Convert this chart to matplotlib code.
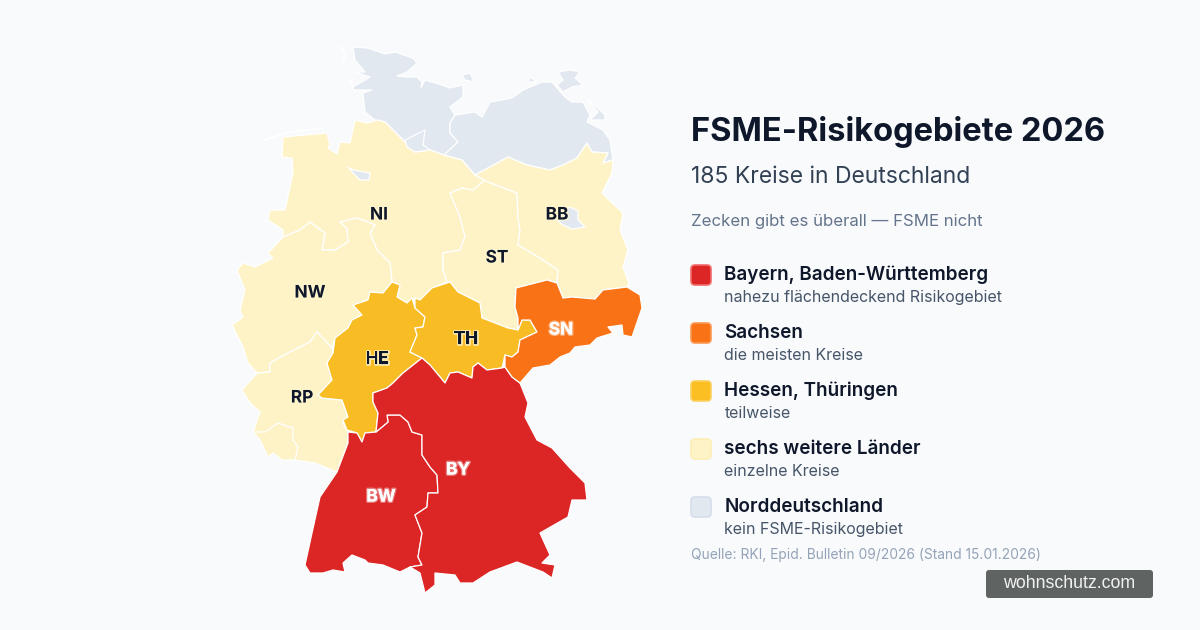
import matplotlib
matplotlib.use("Agg")
import matplotlib.pyplot as plt
from matplotlib.patches import Polygon, FancyBboxPatch
import matplotlib.patheffects as pe

BG = "#f8fafc"
RED, ORANGE, AMBER, CREAM, GREY = "#dc2626", "#f97316", "#f8bc24", "#fef3c7", "#e2e8f0"
DARK = "#0f172a"

# Outlines (image pixel coordinates)
SH = [(353,47),(368,48),(385,54),(395,52),(413,58),(417,63),(407,72),(397,76),(407,77),(417,77),(422,82),(421,88),(425,80),(442,85),(450,88),(463,85),(463,97),(450,107),(455,115),(450,123),(450,133),(458,142),(444,155),(430,150),(415,152),(405,142),(385,122),(375,120),(365,112),(363,93),(372,90),(353,90),(353,87),(370,77),(355,72),(365,72),(355,60)]
HH = [(405,140),(415,135),(425,130),(423,145),(430,150),(415,152),(407,147)]
FEHMARN = [(462,75),(470,73),(474,82),(465,80)]
MV = [(444,155),(458,142),(450,133),(450,123),(455,115),(475,112),(482,117),(490,102),(512,98),(523,90),(542,82),(552,82),(565,97),(572,102),(583,102),(590,115),(587,122),(603,130),(610,140),(613,160),(603,163),(608,153),(592,152),(587,143),(577,158),(563,165),(550,170),(527,165),(508,157),(488,168),(475,175),(462,160)]
RUEGEN = [(558,72),(570,70),(580,72),(575,78),(583,85),(572,87),(563,92),(557,85),(563,80)]
USEDOM = [(588,100),(598,108),(605,115),(605,120),(590,120),(598,112)]
DARSS = [(527,82),(531,77),(536,82)]
NI = [(283,137),(327,133),(330,145),(328,148),(337,154),(340,142),(350,143),(355,120),(367,123),(378,120),(385,122),(405,142),(415,152),(430,150),(444,155),(462,160),(475,175),(485,180),(473,190),(462,188),(450,193),(460,217),(465,237),(460,250),(443,253),(443,270),(447,282),(432,288),(420,300),(415,298),(407,303),(397,297),(400,285),(392,282),(390,263),(377,250),(370,233),(375,225),(368,222),(357,218),(340,222),(347,228),(348,242),(335,250),(322,250),(325,233),(310,222),(300,230),(283,237),(283,230),(268,220),(270,210),(285,210),(293,173),(292,158),(282,157)]
BREMEN = [(348,167),(353,170),(370,173),(369,180),(360,180),(353,173)]
NW = [(283,237),(300,230),(310,222),(325,233),(322,250),(335,250),(348,242),(347,228),(340,222),(357,218),(368,222),(375,225),(370,233),(377,250),(390,263),(392,282),(383,293),(370,292),(368,300),(353,305),(362,315),(352,320),(348,328),(335,338),(332,348),(317,332),(310,342),(288,353),(270,363),(270,372),(257,373),(248,363),(243,347),(238,337),(232,325),(243,317),(240,310),(245,290),(237,270),(243,263),(255,267),(273,258),(268,253)]
RP = [(257,373),(270,372),(270,363),(288,353),(310,342),(317,332),(332,348),(333,353),(327,363),(332,380),(318,395),(322,398),(342,400),(348,417),(343,423),(348,432),(348,443),(337,472),(315,463),(295,460),(282,460),(273,453),(268,457),(260,440),(253,432),(260,412),(250,403),(242,390)]
SL = [(253,432),(265,432),(278,423),(293,428),(293,440),(298,447),(295,460),(282,460),(273,453),(268,457),(260,440)]
HE = [(392,282),(400,285),(397,297),(407,303),(412,298),(415,308),(425,317),(423,327),(415,328),(417,335),(410,352),(422,358),(403,373),(393,383),(387,388),(373,393),(373,402),(378,413),(376,432),(365,433),(362,442),(357,433),(347,430),(343,420),(348,417),(342,400),(322,398),(318,395),(332,380),(327,363),(333,353),(335,338),(348,328),(352,320),(362,315),(353,305),(368,300),(370,292),(383,293)]
TH = [(450,282),(458,292),(480,303),(482,318),(508,328),(518,330),(522,320),(530,320),(537,332),(520,340),(518,352),(512,357),(505,355),(502,368),(487,370),(478,363),(473,367),(472,378),(458,372),(450,373),(445,383),(430,365),(422,358),(410,352),(417,335),(415,328),(423,327),(425,317),(415,308),(415,298),(420,300),(432,288)]
ST = [(485,180),(473,190),(462,188),(450,193),(460,217),(465,237),(460,250),(443,253),(443,270),(447,282),(450,282),(458,292),(480,303),(482,318),(508,328),(518,330),(518,318),(515,307),(516,288),(547,280),(557,283),(558,270),(540,258),(518,245),(520,230),(518,217),(517,193),(488,182)]
BB = [(475,175),(488,168),(508,157),(527,165),(550,170),(563,165),(577,158),(587,143),(592,152),(608,153),(603,163),(613,160),(612,173),(602,193),(623,213),(620,230),(628,250),(623,267),(629,283),(627,287),(603,290),(595,299),(572,297),(563,298),(557,283),(558,270),(540,258),(518,245),(520,230),(518,217),(517,193),(488,182)]
BERLIN = [(557,220),(563,212),(570,207),(578,211),(578,220),(585,227),(572,229),(563,225)]
SN = [(516,288),(547,280),(557,283),(563,298),(572,297),(595,299),(603,290),(627,287),(640,295),(642,308),(632,337),(623,335),(622,325),(608,327),(613,333),(597,338),(590,345),(575,347),(570,353),(560,357),(550,365),(533,368),(520,383),(512,377),(505,367),(505,355),(512,357),(518,352),(520,340),(537,332),(530,320),(522,320),(518,330),(518,318),(515,307)]
BW = [(376,432),(388,422),(387,415),(400,415),(408,422),(412,432),(422,435),(422,455),(430,467),(437,475),(438,493),(428,493),(427,507),(415,515),(422,533),(418,557),(422,565),(410,567),(400,572),(383,565),(368,563),(365,560),(352,555),(343,563),(345,572),(333,570),(323,573),(310,573),(305,565),(312,533),(320,497),(337,472),(348,443),(348,432),(357,433),(362,442),(365,433)]
BY = [(422,358),(430,365),(445,383),(450,373),(458,372),(472,378),(473,367),(478,363),(487,370),(502,368),(505,367),(512,377),(520,383),(528,403),(525,417),(537,440),(552,448),(570,468),(585,483),(587,500),(572,500),(568,517),(540,533),(550,555),(542,563),(555,565),(552,578),(543,572),(517,562),(490,572),(473,583),(460,583),(455,575),(435,573),(435,585),(425,593),(420,573),(410,567),(422,565),(418,557),(422,533),(415,515),(427,507),(428,493),(438,493),(437,475),(430,467),(422,455),(422,435),(412,432),(408,422),(400,415),(387,415),(388,422),(376,432),(378,413),(373,402),(373,393),(387,388),(393,383),(403,373)]

regions = [(SH,GREY),(FEHMARN,GREY),(MV,GREY),(RUEGEN,GREY),(USEDOM,GREY),(DARSS,GREY),
           (NI,CREAM),(HH,GREY),(BREMEN,GREY),(NW,CREAM),(RP,CREAM),(SL,CREAM),(ST,CREAM),(BB,CREAM),(BERLIN,GREY),
           (HE,AMBER),(TH,AMBER),(BW,RED),(BY,RED),(SN,ORANGE)]

state_names = ["NI","BB","ST","NW","HE","TH","SN","RP","BY","BW"]
state_x = [379,557,497,310,377,466,561,302,458,381]
state_y = [215,215,258,293,359,339,330,398,470,497]
light_labels = ["SN","BY","BW"]

title = "FSME-Risikogebiete 2026"
subtitle = "185 Kreise in Deutschland"
tagline = "Zecken gibt es überall — FSME nicht"
legend_heads = ["Bayern, Baden-Württemberg","Sachsen","Hessen, Thüringen","sechs weitere Länder","Norddeutschland"]
legend_subs = ["nahezu flächendeckend Risikogebiet","die meisten Kreise","teilweise","einzelne Kreise","kein FSME-Risikogebiet"]
legend_colors = [RED,ORANGE,"#fbbf24",CREAM,GREY]
legend_edges = ["#f26a6a","#fb9a55","#fcd05f","#fdeeb5","#d5deea"]
source = "Quelle: RKI, Epid. Bulletin 09/2026 (Stand 15.01.2026)"
brand = "wohnschutz.com"

plt.rcParams["font.family"] = ["Inter","DejaVu Sans"]
fig = plt.figure(figsize=(12,6.3), dpi=100, facecolor=BG)
ax = fig.add_axes([0,0,1,1])
ax.set_xlim(0,1200); ax.set_ylim(630,0); ax.axis("off")

# faint white sand-bank lines on the coast
for line in ([(265,140),(285,133),(323,128)],[(341,45),(345,55),(343,62)],[(350,80),(355,92)]):
    ax.plot(*zip(*line), color="white", lw=1.2, zorder=1)

for i,(pts,col) in enumerate(regions):
    ax.add_patch(Polygon(pts, closed=True, facecolor=col, edgecolor="white", lw=0.9, joinstyle="round", zorder=2+i*0.01))

for n,x,y in zip(state_names,state_x,state_y):
    if n in light_labels:
        c, st = "white", pe.withStroke(linewidth=2.0, foreground=(1,1,1,0.4))
    else:
        c, st = DARK, pe.withStroke(linewidth=2.0, foreground=(1,0.97,0.82,0.8))
    ax.text(x,y,n,color=c,fontsize=12.4,fontweight="bold",ha="center",va="center",path_effects=[st],zorder=5)

ax.text(691,141,title,color=DARK,fontsize=23.5,fontweight="bold",va="baseline")
ax.text(691,183,subtitle,color="#334155",fontsize=16.5,va="baseline")
ax.text(691,226,tagline,color="#64748b",fontsize=12.1,va="baseline")

for i,(h,s,c,e) in enumerate(zip(legend_heads,legend_subs,legend_colors,legend_edges)):
    y0 = 264+58*i
    ax.add_patch(FancyBboxPatch((691,y0+1),20,20,boxstyle="round,pad=0,rounding_size=4",facecolor=c,edgecolor=e,lw=1.2,zorder=3))
    ax.text(724.5,y0+16,h,color=DARK,fontsize=13.6,fontweight="semibold",va="baseline")
    ax.text(724.5,y0+38,s,color="#475569",fontsize=11.5,va="baseline")

ax.text(691,559,source,color="#94a3b8",fontsize=9.93,va="baseline")
ax.add_patch(FancyBboxPatch((986,570),167,28,boxstyle="round,pad=0,rounding_size=3",facecolor="#5f6362",edgecolor="none",zorder=3))
ax.text(1069.5,584,brand,color="#f1f3f3",fontsize=12.8,ha="center",va="center",family="Liberation Sans",zorder=4)

fig.savefig("out.png",dpi=100,facecolor=BG)
